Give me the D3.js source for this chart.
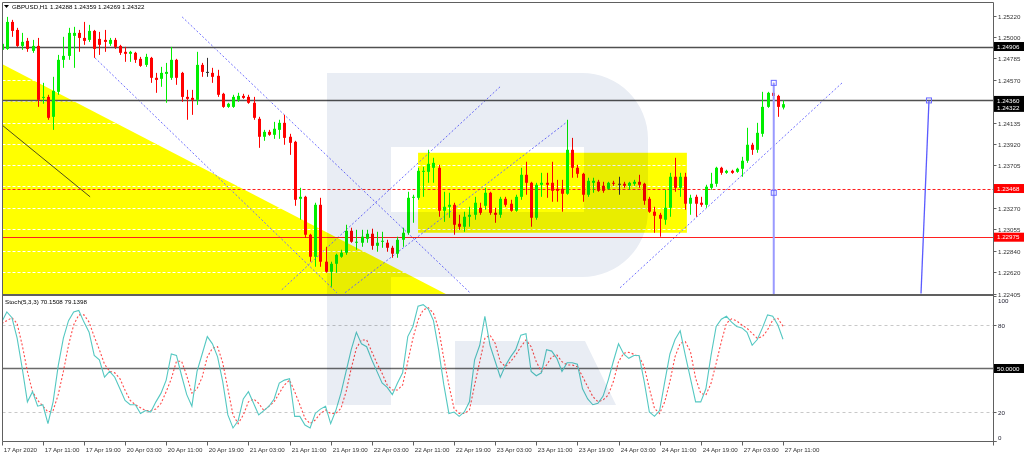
<!DOCTYPE html>
<html><head><meta charset="utf-8">
<script src="https://cdn.jsdelivr.net/npm/d3@7"></script>
<style>
body{margin:0;background:#fff;}
svg{display:block;font-family:"Liberation Sans",Arial,sans-serif;}
</style></head><body>
<svg id="c" width="1024" height="455"></svg>
<script>
// ---------------- DATA ----------------
const symbolTitle = "GBPUSD,H1";
const lastOHLC = ["1.24288","1.24359","1.24269","1.24322"];
const stochTitle = "Stoch(5,3,3) 70.1508 79.1398";

const opens = [1.24872,1.24882,1.25155,1.25074,1.24912,1.24963,1.24862,1.24912,1.24386,1.24396,
1.24194,1.24447,1.24771,1.24811,1.25014,1.25044,1.24993,1.24973,1.25064,1.24983,
1.24973,1.24933,1.24973,1.24912,1.24852,1.24832,1.24842,1.24781,1.24720,1.24791,
1.24589,1.24579,1.24629,1.24589,1.24771,1.24639,1.24396,1.24386,1.24366,1.24720,
1.24649,1.24639,1.24609,1.24427,1.24295,1.24295,1.24366,1.24406,1.24396,1.24336,
1.24174,1.23992,1.24042,1.24012,1.24062,1.24133,1.23992,1.23941,1.23364,1.23384,
1.23000,1.22777,1.23303,1.22727,1.22625,1.22706,1.22777,1.22818,1.23040,1.22919,
1.22919,1.22959,1.23010,1.22888,1.22929,1.22919,1.22868,1.22808,1.22949,1.23020,
1.23374,1.23374,1.23637,1.23637,1.23678,1.23678,1.23243,1.23283,1.23303,1.23111,
1.23081,1.23182,1.23202,1.23273,1.23293,1.23425,1.23222,1.23202,1.23364,1.23314,
1.23243,1.23384,1.23607,1.23526,1.23172,1.23506,1.23526,1.23526,1.23465,1.23465,
1.23415,1.23860,1.23678,1.23617,1.23405,1.23526,1.23536,1.23496,1.23465,1.23526,
1.23516,1.23516,1.23496,1.23516,1.23536,1.23516,1.23364,1.23233,1.23202,1.23152,
1.23273,1.23587,1.23475,1.23587,1.23314,1.23384,1.23324,1.23303,1.23475,1.23516,
1.23678,1.23627,1.23647,1.23637,1.23668,1.23749,1.23911,1.23860,1.24022,1.24295,
1.24437,1.24406,1.24288];
const highs = [1.24953,1.25206,1.25176,1.25095,1.25044,1.24993,1.24973,1.24993,1.24538,1.24417,
1.24599,1.24821,1.25004,1.25095,1.25105,1.25074,1.25155,1.25125,1.25074,1.25054,
1.25074,1.24993,1.24993,1.24923,1.24902,1.24862,1.24852,1.24801,1.24832,1.24801,
1.24639,1.24700,1.24740,1.24902,1.24781,1.24649,1.24467,1.24467,1.24852,1.24740,
1.24791,1.24690,1.24670,1.24437,1.24336,1.24417,1.24437,1.24427,1.24417,1.24396,
1.24194,1.24062,1.24062,1.24143,1.24164,1.24214,1.24022,1.23951,1.23475,1.23394,
1.23010,1.23324,1.23374,1.22878,1.22727,1.22808,1.22848,1.23101,1.23071,1.23050,
1.23050,1.23050,1.23061,1.23030,1.23030,1.22949,1.22888,1.22980,1.23071,1.23435,
1.23405,1.23678,1.23688,1.23860,1.23779,1.23708,1.23435,1.23425,1.23324,1.23202,
1.23233,1.23283,1.23384,1.23324,1.23475,1.23435,1.23273,1.23384,1.23384,1.23354,
1.23405,1.23678,1.23739,1.23536,1.23526,1.23627,1.23627,1.23739,1.23556,1.23556,
1.24164,1.23981,1.23708,1.23627,1.23577,1.23577,1.23556,1.23536,1.23536,1.23546,
1.23587,1.23536,1.23536,1.23556,1.23607,1.23526,1.23384,1.23283,1.23222,1.23455,
1.23627,1.23779,1.23627,1.23627,1.23405,1.23405,1.23384,1.23506,1.23627,1.23688,
1.23688,1.23658,1.23658,1.23678,1.23789,1.24083,1.23931,1.24133,1.24447,1.24447,
1.24538,1.24417,1.24359];
const lows = [1.24852,1.24872,1.25004,1.24902,1.24872,1.24852,1.24842,1.24295,1.24326,1.24164,
1.24062,1.24417,1.24690,1.24771,1.24690,1.24852,1.24923,1.24953,1.24791,1.24821,
1.24852,1.24912,1.24882,1.24821,1.24751,1.24751,1.24740,1.24700,1.24700,1.24538,
1.24437,1.24498,1.24336,1.24568,1.24518,1.24346,1.24164,1.24214,1.24315,1.24599,
1.24599,1.24538,1.24396,1.24285,1.24285,1.24285,1.24346,1.24376,1.24326,1.24164,
1.23880,1.23951,1.24002,1.23971,1.23971,1.23911,1.23809,1.23293,1.23152,1.22969,
1.22727,1.22676,1.22676,1.22615,1.22474,1.22615,1.22767,1.22797,1.22919,1.22848,
1.22878,1.22919,1.22848,1.22828,1.22868,1.22828,1.22767,1.22767,1.22878,1.23000,
1.23121,1.23354,1.23384,1.23526,1.23526,1.23182,1.23131,1.23172,1.23000,1.23050,
1.23030,1.23081,1.23152,1.23202,1.23253,1.23202,1.23121,1.23172,1.23283,1.23233,
1.23233,1.23354,1.23405,1.23081,1.23152,1.23384,1.23374,1.23334,1.23334,1.23233,
1.23405,1.23577,1.23577,1.23334,1.23384,1.23425,1.23435,1.23425,1.23455,1.23496,
1.23405,1.23475,1.23455,1.23496,1.23475,1.23303,1.23222,1.23020,1.22980,1.23101,
1.23182,1.23435,1.23384,1.23253,1.23202,1.23182,1.23283,1.23273,1.23455,1.23486,
1.23607,1.23617,1.23617,1.23627,1.23587,1.23728,1.23809,1.23830,1.23992,1.24285,
1.24336,1.24194,1.24269];
const closes = [1.24933,1.25155,1.25064,1.24912,1.24953,1.24882,1.24912,1.24366,1.24396,1.24184,
1.24457,1.24771,1.24811,1.25044,1.25044,1.24993,1.24963,1.25064,1.24882,1.24923,
1.24953,1.24973,1.24902,1.24842,1.24832,1.24852,1.24771,1.24710,1.24801,1.24589,
1.24568,1.24639,1.24649,1.24771,1.24589,1.24396,1.24376,1.24366,1.24720,1.24649,
1.24649,1.24599,1.24417,1.24295,1.24326,1.24396,1.24406,1.24386,1.24336,1.24184,
1.23992,1.24042,1.24012,1.24073,1.24133,1.23981,1.23931,1.23354,1.23384,1.23000,
1.22777,1.23303,1.22727,1.22625,1.22706,1.22797,1.22818,1.23040,1.22929,1.22929,
1.22980,1.23010,1.22888,1.22919,1.22939,1.22868,1.22808,1.22949,1.23020,1.23374,
1.23384,1.23647,1.23647,1.23718,1.23728,1.23243,1.23283,1.23303,1.23101,1.23081,
1.23182,1.23202,1.23324,1.23222,1.23425,1.23222,1.23202,1.23364,1.23303,1.23243,
1.23384,1.23607,1.23526,1.23172,1.23506,1.23526,1.23506,1.23445,1.23445,1.23415,
1.23860,1.23678,1.23617,1.23405,1.23546,1.23546,1.23445,1.23445,1.23526,1.23516,
1.23516,1.23496,1.23526,1.23536,1.23506,1.23344,1.23233,1.23192,1.23162,1.23273,
1.23587,1.23475,1.23587,1.23314,1.23374,1.23314,1.23303,1.23486,1.23516,1.23678,
1.23627,1.23647,1.23627,1.23668,1.23749,1.23911,1.23860,1.24032,1.24295,1.24437,
1.24406,1.24295,1.24322];

const stochK = [82,89,85,71,50,27,34,24,25,12,27,52,71,83,89,90,82,75,59,56,
44,48,44,36,28,25,25,19,21,20,27,33,42,60,59,45,32,24,48,60,
72,67,58,41,18,9,14,29,34,26,18,21,24,29,40,42,43,17,17,11,
9,19,22,24,12,21,33,48,63,75,67,65,56,48,40,37,32,40,47,72,
79,93,94,91,83,63,39,19,20,17,20,27,56,66,86,66,55,44,52,58,
63,73,74,48,45,47,63,62,57,48,54,54,53,36,29,25,26,31,42,55,
67,60,57,59,59,41,20,17,21,41,60,70,76,59,43,27,27,36,59,79,
84,86,82,79,78,75,66,70,78,87,86,80,70.15];
const stochD = [81,83,85,81,66,48,34,28,24,20,21,32,48,66,80,87,87,82,72,63,
53,48,47,43,35,28,25,23,21,21,22,26,34,43,55,55,45,33,36,44,
58,64,65,54,36,18,12,18,27,29,26,21,24,27,33,38.6,42,34,25,15.6,
12,14.5,19,21.4,19,19,22.5,34,50,64,69.7,69.7,61.6,53.6,46.7,38.6,35.2,35.2,38.6,54.7,
70.8,83.5,90.4,92,88,77.7,57,38.6,22.5,19,19,21.4,38.6,54.7,70.8,73,67.4,54.7,51.3,54.7,
59.3,65,69.7,65,54.7,47.8,52.4,58,59.3,54.7,52.4,52.4,51.3,44.4,37.5,30.6,27.1,28.3,31.7,41,
54.7,60.5,61.2,59.8,58.2,51.3,36.3,22.5,19,27.1,41,58.2,67.4,68.5,61.6,43.2,32.9,31.7,39.8,53.6,
68.5,81.2,84.2,82.8,80,77.7,74.3,70.8,72,76.6,83.5,84.6,79.14];

const timeLabels = ["17 Apr 2020","17 Apr 11:00","17 Apr 19:00","20 Apr 03:00","20 Apr 11:00","20 Apr 19:00",
"21 Apr 03:00","21 Apr 11:00","21 Apr 19:00","22 Apr 03:00","22 Apr 11:00","22 Apr 19:00",
"23 Apr 03:00","23 Apr 11:00","23 Apr 19:00","24 Apr 03:00","24 Apr 11:00","24 Apr 19:00",
"27 Apr 03:00","27 Apr 11:00"];
const timeLabelStep = 8;

const priceTicks = [1.25220,1.25000,1.24785,1.24570,1.24355,1.24135,1.23920,1.23705,1.23490,1.23270,1.23055,1.22840,1.22620,1.22405];
const hiddenPriceTicks = [1.24355,1.23490];
const stochTicks = [100,80,20,0];
const stochLevels = [80,20];

// horizontal levels: price, kind
const levelPrices = [1.24906,1.24360,1.23468,1.22975];
const levelKinds = ["black","black","reddash","red"];

// drawn objects in (bar, price)
const triangleBars = [0,0,90.5];
const trianglePrices = [1.24740,1.22300,1.22300];
const rectBars = [81.0,133.3];
const rectPrices = [1.23830,1.23020];
const blackLineBars = [0.25,17.2];
const blackLinePrices = [1.24103,1.23384];
const channelBars = [[35.1,91.1],[18.15,65.2],[54.5,96.95],[66.8,110],[120.3,163.5]];
const channelPrices = [[1.25206,1.22413],[1.24791,1.22413],[1.22443,1.24498],[1.22413,1.24143],[1.22463,1.24538]];
const vLineBar = 150.2;
const vLinePrices = [1.24538,1.23425,1.22300];
const fcBars = [178.85,180.4];
const fcPrices = [1.22405,1.24360];

// ---------------- LAYOUT ----------------
const L = 2.5, R = 993.5, T = 2.5, MB = 294.5, SB = 441.5;
const svg = d3.select("#c");
const x = d3.scaleLinear().domain([0,152]).range([1.7,783]);
const y = d3.scaleLinear().domain([1.22405,1.25220]).range([293.5,15.5]);
const ys = d3.scaleLinear().domain([0,100]).range([441,296]);

const defs = svg.append("defs");
defs.append("clipPath").attr("id","cm").append("rect").attr("x",L).attr("y",T).attr("width",R-L).attr("height",MB-T);
defs.append("clipPath").attr("id","cs").append("rect").attr("x",L).attr("y",MB).attr("width",R-L).attr("height",SB-MB);

svg.append("rect").attr("width",1024).attr("height",455).attr("fill","#fff");
const gm = svg.append("g").attr("clip-path","url(#cm)");

// yellow shapes
gm.append("path").attr("fill","#ffff00")
  .attr("d", d3.line()(triangleBars.map((b,i)=>[x(b)-2,y(trianglePrices[i])])) + "Z");
gm.append("rect").attr("fill","#ffff00")
  .attr("x",x(rectBars[0])).attr("y",y(rectPrices[0]))
  .attr("width",x(rectBars[1])-x(rectBars[0])).attr("height",y(rectPrices[1])-y(rectPrices[0]));

// grid
gm.selectAll(".grid").data(priceTicks.slice(0,-1)).join("line")
  .attr("x1",L).attr("x2",R).attr("y1",d=>Math.round(y(d))+0.5).attr("y2",d=>Math.round(y(d))+0.5)
  .attr("stroke","#ffffff").attr("stroke-width",1).attr("stroke-dasharray","3,2");

// black diag
gm.append("line").attr("x1",x(blackLineBars[0])).attr("y1",y(blackLinePrices[0]))
  .attr("x2",x(blackLineBars[1])).attr("y2",y(blackLinePrices[1]))
  .attr("stroke","#222").attr("stroke-width",0.8);

// channel lines
channelBars.forEach((b,i)=>{
  gm.append("line").attr("x1",x(b[0])).attr("y1",y(channelPrices[i][0]))
   .attr("x2",x(b[1])).attr("y2",y(channelPrices[i][1]))
   .attr("stroke","#6f6fff").attr("stroke-width",1).attr("stroke-dasharray","2,2");
});

// horizontal levels
levelPrices.forEach((p,i)=>{
  const k = levelKinds[i];
  const yy = Math.round(y(p))+0.5;
  gm.append("line").attr("x1",L).attr("x2",R).attr("y1",yy).attr("y2",yy)
    .attr("stroke", k==="black" ? "#505050" : "#ff2020")
    .attr("stroke-width", k==="black" ? 1.4 : 1)
    .attr("stroke-dasharray", k==="reddash" ? "3,2" : null);
});

// candles
const idx = d3.range(opens.length);
const col = i => closes[i]>opens[i] ? "#00ee00" : (closes[i]<opens[i] ? "#ff0000" : "#333");
gm.selectAll(".wick").data(idx).join("line")
  .attr("x1",i=>Math.round(x(i))+0.5).attr("x2",i=>Math.round(x(i))+0.5)
  .attr("y1",i=>y(highs[i])).attr("y2",i=>y(lows[i]))
  .attr("stroke",col).attr("stroke-width",1);
gm.selectAll(".body").data(idx).join("rect")
  .attr("x",i=>Math.round(x(i))-1).attr("width",3)
  .attr("y",i=>y(Math.max(opens[i],closes[i])))
  .attr("height",i=>Math.max(1,Math.abs(y(opens[i])-y(closes[i]))))
  .attr("fill",col);

// blue vertical and forecast line
const vx = x(vLineBar);
gm.append("line").attr("x1",vx).attr("x2",vx).attr("y1",y(vLinePrices[0])).attr("y2",y(vLinePrices[2]))
  .attr("stroke","#9a9aff").attr("stroke-width",2);
[vLinePrices[0],vLinePrices[1]].forEach(p=>{
  gm.append("rect").attr("x",vx-2.5).attr("y",y(p)-2.5).attr("width",5).attr("height",5)
   .attr("fill","none").attr("stroke","#6a6aff").attr("stroke-width",1);
});
gm.append("line").attr("x1",x(fcBars[0])).attr("y1",y(fcPrices[0])).attr("x2",x(fcBars[1])).attr("y2",y(fcPrices[1]))
  .attr("stroke","#5a5aff").attr("stroke-width",1.3);
gm.append("rect").attr("x",x(fcBars[1])-2.5).attr("y",y(fcPrices[1])-2.5).attr("width",5).attr("height",5)
  .attr("fill","none").attr("stroke","#6a6aff").attr("stroke-width",1);

// stochastic panel
const gs = svg.append("g").attr("clip-path","url(#cs)");
stochLevels.forEach(v=>{
  gs.append("line").attr("x1",L).attr("x2",R).attr("y1",Math.round(ys(v))+0.5).attr("y2",Math.round(ys(v))+0.5)
    .attr("stroke","#c8c8c8").attr("stroke-dasharray","3,3");
});
gs.append("line").attr("x1",L).attr("x2",R).attr("y1",ys(50)).attr("y2",ys(50))
  .attr("stroke","#6a6a6a").attr("stroke-width",1.6);
gs.append("path").attr("fill","none").attr("stroke","#ff4a4a").attr("stroke-width",1.1).attr("stroke-dasharray","2,2")
  .attr("d", d3.line().x((d,i)=>x(i)).y(d=>ys(d))(stochD));
gs.append("path").attr("fill","none").attr("stroke","#55c8c2").attr("stroke-width",1.1)
  .attr("d", d3.line().x((d,i)=>x(i)).y(d=>ys(d))(stochK));

// watermark (multiply)
const wm = svg.append("g").style("mix-blend-mode","multiply").attr("fill","#e9edf4");
wm.append("rect").attr("x",327).attr("y",73).attr("width",64).attr("height",332);
wm.append("path").attr("fill-rule","evenodd")
  .attr("d","M391,73 H582 A66,66 0 0 1 648,139 V211 A66,66 0 0 1 582,277 H391 Z M391,147 H584 V212 H391 Z");
wm.append("path").attr("d","M455,341 H585 L616,405 H455 Z");

// frame
const fr = svg.append("g").attr("fill","none").attr("stroke","#606060");
fr.append("line").attr("x1",L).attr("x2",R).attr("y1",T).attr("y2",T);
fr.append("line").attr("x1",L).attr("x2",L).attr("y1",T).attr("y2",SB);
fr.append("line").attr("x1",R).attr("x2",R).attr("y1",T).attr("y2",SB+4);
fr.append("line").attr("x1",L).attr("x2",R).attr("y1",MB+0.5).attr("y2",MB+0.5).attr("stroke-width",2);
fr.append("line").attr("x1",L).attr("x2",R+3).attr("y1",SB).attr("y2",SB);

// price axis
const fs = 6.2;
const ax = svg.append("g").attr("font-size",fs).attr("fill","#333");
priceTicks.forEach(p=>{
  const yy = Math.round(y(p))+0.5;
  ax.append("line").attr("x1",R).attr("x2",R+3).attr("y1",yy).attr("y2",yy).attr("stroke","#606060");
  if(!hiddenPriceTicks.includes(p))
    ax.append("text").attr("x",998).attr("y",yy).attr("dy","0.35em").text(p.toFixed(5));
});
function tag(p,bg,txt,off){
  const yy = y(p) + (off||0);
  ax.append("rect").attr("x",994).attr("y",yy-4.5).attr("width",30).attr("height",9).attr("fill",bg);
  ax.append("text").attr("x",997).attr("y",yy).attr("dy","0.35em").attr("fill","#fff").text(txt);
}
tag(1.24906,"#000","1.24906");
tag(+lastOHLC[3],"#000",lastOHLC[3],3.2);
tag(1.24360,"#000","1.24360");
tag(1.23468,"#ff0000","1.23468");
tag(1.22975,"#ff0000","1.22975");

// stoch axis
stochTicks.forEach(v=>{
  const yy = Math.round(ys(v))+0.5;
  ax.append("line").attr("x1",R).attr("x2",R+3).attr("y1",yy).attr("y2",yy).attr("stroke","#606060");
  const ty = v===100 ? yy+4 : (v===0 ? yy-4 : yy);
  ax.append("text").attr("x",998).attr("y",ty).attr("dy","0.35em").attr("fill","#223").text(v);
});
ax.append("rect").attr("x",994).attr("y",ys(50)-4.5).attr("width",30).attr("height",9).attr("fill","#000");
ax.append("text").attr("x",997).attr("y",ys(50)).attr("dy","0.35em").attr("fill","#fff").text("50.0000");

// time axis
timeLabels.forEach((t,k)=>{
  const xx = Math.round(x(k*timeLabelStep))+0.5;
  ax.append("line").attr("x1",xx).attr("x2",xx).attr("y1",SB).attr("y2",SB+4).attr("stroke","#606060");
  ax.append("text").attr("x",xx+1.2).attr("y",449.5).attr("dy","0.35em").text(t);
});

// titles
svg.append("path").attr("d","M4,5 L9,5 L6.5,8 Z").attr("fill","#000");
const tt = svg.append("g").attr("font-size",fs).attr("fill","#000");
tt.append("text").attr("x",12).attr("y",6.5).attr("dy","0.35em").text(symbolTitle);
lastOHLC.forEach((v,i)=>tt.append("text").attr("x",50+i*24).attr("y",6.5).attr("dy","0.35em").text(v));
tt.append("text").attr("x",5).attr("y",301.5).attr("dy","0.35em").text(stochTitle);
</script>
</body></html>
